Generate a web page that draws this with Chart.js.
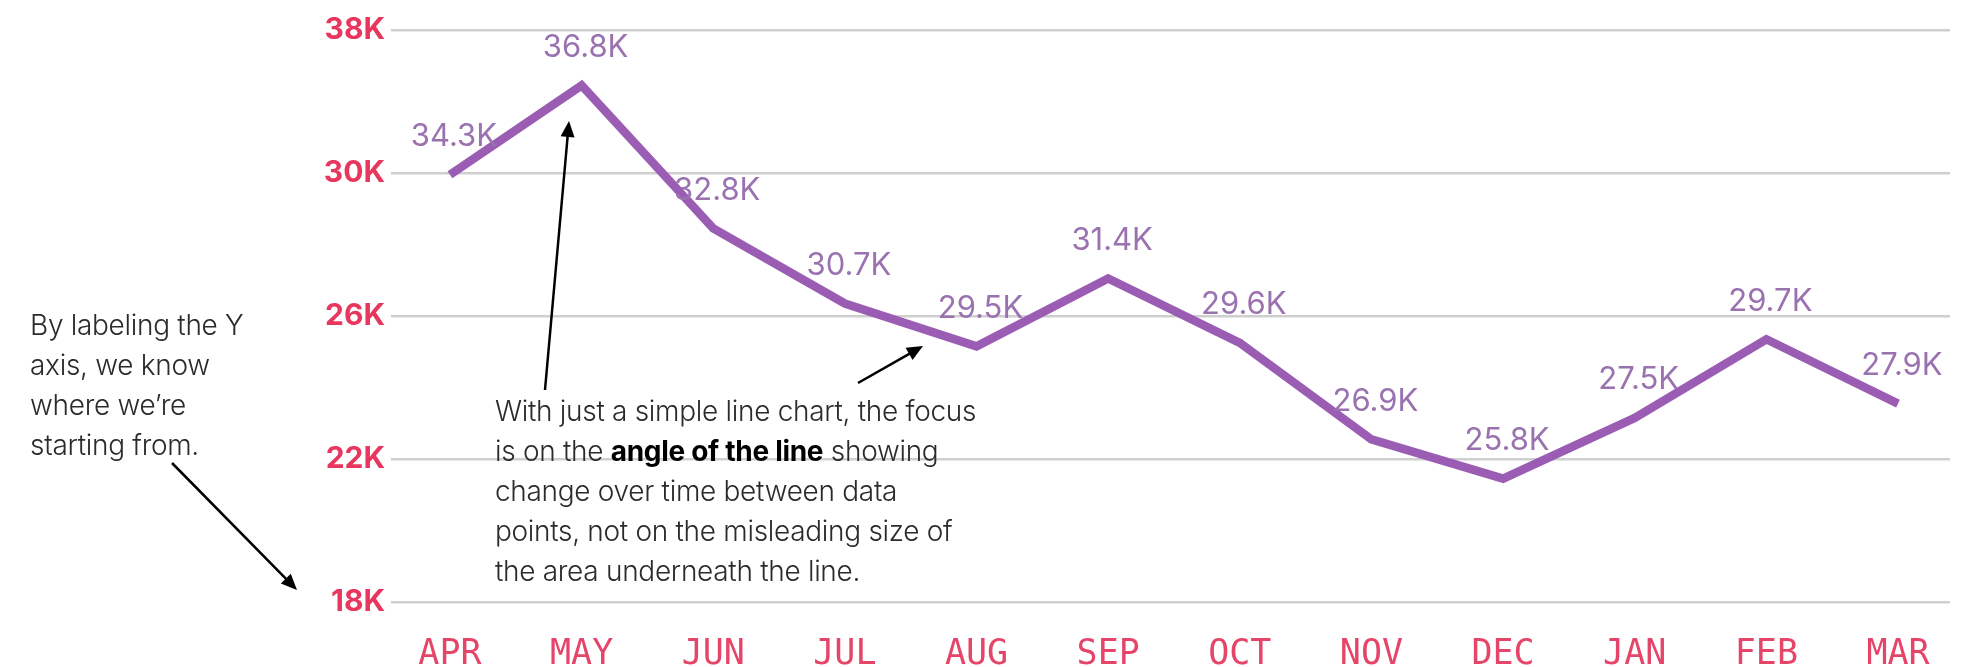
<!DOCTYPE html>
<html><head><meta charset="utf-8">
<script src="https://cdn.jsdelivr.net/npm/chart.js@4/dist/chart.umd.min.js"></script>
<style>html,body{margin:0;padding:0;background:#fff;}#wrap{width:1966px;height:667px;}</style>
</head><body><div id="wrap"><canvas id="c" width="1966" height="667"></canvas></div>
<script>
const months = ['APR','MAY','JUN','JUL','AUG','SEP','OCT','NOV','DEC','JAN','FEB','MAR'];
const visitors = [34.3, 36.8, 32.8, 30.7, 29.5, 31.4, 29.6, 26.9, 25.8, 27.5, 29.7, 27.9];
const yTickLabels = ['18K', '22K', '26K', '30K', '38K']; // bottom to top, as printed
const leftNote = ['By labeling the Y', 'axis, we know', 'where we\u2019re', 'starting from.'];
const midNote = [
  [['With just a simple line chart, the focus', false]],
  [['is on the ', false], ['angle of the line', true], [' showing', false]],
  [['change over time between data', false]],
  [['points, not on the misleading size of', false]],
  [['the area underneath the line.', false]]
];

const Y_MIN = 22.35, Y_STEP = 4;

function arrow(ctx, x1, y1, x2, y2) {
  const a = Math.atan2(y2 - y1, x2 - x1), L = 16, W = 7;
  ctx.beginPath(); ctx.moveTo(x1, y1);
  ctx.lineTo(x2 - Math.cos(a) * L * 0.8, y2 - Math.sin(a) * L * 0.8); ctx.stroke();
  ctx.beginPath(); ctx.moveTo(x2, y2);
  ctx.lineTo(x2 - Math.cos(a) * L + Math.sin(a) * W, y2 - Math.sin(a) * L - Math.cos(a) * W);
  ctx.lineTo(x2 - Math.cos(a) * L - Math.sin(a) * W, y2 - Math.sin(a) * L + Math.cos(a) * W);
  ctx.closePath(); ctx.fill();
}

const valueLabels = {
  id: 'valueLabels',
  afterDatasetsDraw(chart) {
    const ctx = chart.ctx, meta = chart.getDatasetMeta(0);
    ctx.save();
    ctx.font = '400 31px Inter';
    ctx.fillStyle = '#9a72b0';
    ctx.textAlign = 'center'; ctx.textBaseline = 'middle';
    meta.data.forEach((pt, i) => ctx.fillText(visitors[i].toFixed(1) + 'K', pt.x + 4, pt.y - 38));
    ctx.restore();
  }
};

const notes = {
  id: 'notes',
  afterDraw(chart) {
    const ctx = chart.ctx;
    ctx.save();
    ctx.textBaseline = 'alphabetic'; ctx.textAlign = 'left';
    const light = '300 28px Inter', bold = '700 28px Inter';
    ctx.fillStyle = '#2b2b2b';
    try { ctx.letterSpacing = '-0.3px'; } catch (e) {}
    leftNote.forEach((t, i) => { ctx.font = light; ctx.fillText(t, 30, 335 + i * 40); });
    midNote.forEach((segs, i) => {
      let x = 495;
      segs.forEach(([t, b]) => {
        ctx.font = b ? bold : light;
        ctx.fillStyle = b ? '#000' : '#2b2b2b';
        ctx.fillText(t, x, 421 + i * 40);
        x += ctx.measureText(t).width;
      });
    });
    ctx.strokeStyle = '#000'; ctx.fillStyle = '#000'; ctx.lineWidth = 2.5;
    arrow(ctx, 172, 463, 297, 590);
    arrow(ctx, 545, 390, 569, 121);
    arrow(ctx, 858, 383, 923, 346);
    ctx.restore();
  }
};

new Chart(document.getElementById('c'), {
  type: 'line',
  data: {
    labels: months,
    datasets: [{
      data: visitors.map((v, i) => ({ x: i, y: v })),
      borderColor: '#9b5db4',
      borderWidth: 8.5,
      pointRadius: 0,
      tension: 0,
      borderCapStyle: 'butt',
      borderJoinStyle: 'miter',
      fill: false
    }]
  },
  options: {
    responsive: false,
    animation: false,
    devicePixelRatio: 1,
    layout: { padding: { top: 30, right: 16, left: 0, bottom: 0 } },
    plugins: { legend: { display: false }, tooltip: { enabled: false } },
    scales: {
      x: {
        type: 'linear',
        min: -0.448, max: 11.395,
        afterBuildTicks: s => { s.ticks = months.map((_, i) => ({ value: i })); },
        afterFit: s => { s.height = 65; },
        grid: { display: false, drawTicks: false },
        border: { display: false },
        ticks: {
          callback: (v) => months[v],
          autoSkip: false, maxRotation: 0,
          padding: 32,
          color: '#e6456a',
          font: { family: 'DejaVu Sans Mono', size: 35 }
        }
      },
      y: {
        min: Y_MIN, max: Y_MIN + Y_STEP * (yTickLabels.length - 1),
        afterBuildTicks: s => { s.ticks = yTickLabels.map((_, i) => ({ value: Y_MIN + i * Y_STEP })); },
        afterFit: s => { s.width = 391; },
        grid: { color: '#cfcfcf', lineWidth: 2.5, drawTicks: false },
        border: { display: false },
        ticks: {
          callback: (v, i) => yTickLabels[i],
          padding: 6,
          color: '#e8375e',
          font: { family: 'Inter', size: 30, weight: '700' }
        }
      }
    }
  },
  plugins: [valueLabels, notes]
});
</script></body></html>
